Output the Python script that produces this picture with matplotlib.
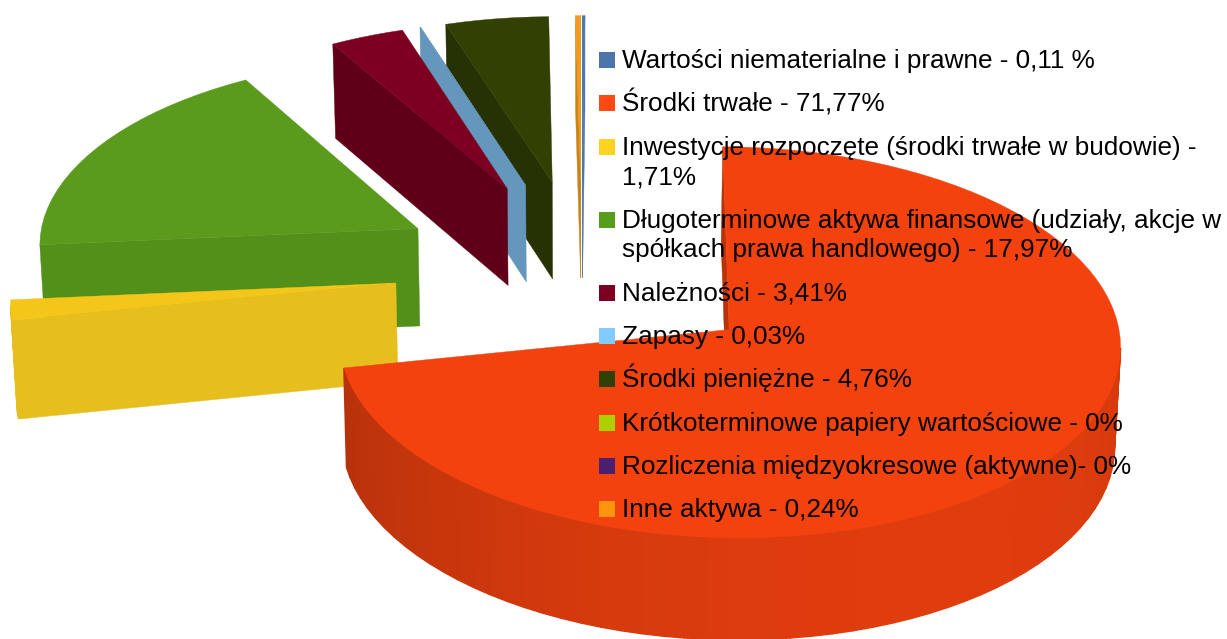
import numpy as np
import matplotlib
matplotlib.use("Agg")
import matplotlib.pyplot as plt
from matplotlib.patches import Polygon, Rectangle

labels = [
    "Wartości niematerialne i prawne - 0,11 %",
    "Środki trwałe - 71,77%",
    "Inwestycje rozpoczęte (środki trwałe w budowie) -\n1,71%",
    "Długoterminowe aktywa finansowe (udziały, akcje w\nspółkach prawa handlowego) - 17,97%",
    "Należności - 3,41%",
    "Zapasy - 0,03%",
    "Środki pieniężne - 4,76%",
    "Krótkoterminowe papiery wartościowe - 0%",
    "Rozliczenia międzyokresowe (aktywne)- 0%",
    "Inne aktywa - 0,24%",
]
values = [0.11, 71.77, 1.71, 17.97, 3.41, 0.03, 4.76, 0, 0, 0.24]
legend_colors = ["#4b75ab", "#ff4a12", "#ffd320", "#579d1c", "#7e0021",
                 "#83caff", "#314004", "#aecf00", "#4b1f6f", "#ff950e"]
top_colors = ["#4b75ab", "#f4420f", "#f4c61a", "#5a9a1c", "#7e0021",
              "#6596bc", "#334004", "#aecf00", "#4b1f6f", "#f39a1c"]
side_colors = ["#4b75ab", "#b93208", "#e6bf1f", "#53901a", "#5f0018",
               "#6596bc", "#263203", "#aecf00", "#4b1f6f", "#c98318"]

# projection of the pie
CX, CY = 582.0, 270.0
SX, SY = 382.0, 187.0
PERSP = 0.064
EXPLODE = 0.49
DEPTH = 98.0


def project(X, Y, bottom=False):
    w = 1 - PERSP * Y
    x, y = SX * X / w, SY * Y / w
    if bottom:
        x = x * 0.989
        y = y + DEPTH / (1 - 0.03 * Y)
    return np.column_stack([CX + x, CY + y])


def slice_outline(t1, t2):
    mid = (t1 + t2) / 2
    ex, ey = EXPLODE * np.sin(mid), -EXPLODE * np.cos(mid)
    n = max(2, int(np.degrees(t2 - t1) / 3.0) + 2)
    th = np.linspace(t1, t2, n)
    return ex, ey, th, ex + np.sin(th), ey - np.cos(th)


def signed_area(p):
    x, y = p[:, 0], p[:, 1]
    return 0.5 * np.sum(x * np.roll(y, -1) - np.roll(x, -1) * y)


def shade(hex_color, f):
    rgb = np.array(matplotlib.colors.to_rgb(hex_color))
    return tuple(np.clip(rgb * f, 0, 1))


fig = plt.figure(figsize=(12.27, 6.39), dpi=100)
ax = fig.add_axes([0, 0, 1, 1])
ax.set_xlim(0, 1227)
ax.set_ylim(639, 0)
ax.axis("off")


def poly(p, c, z, lw=0.3):
    ax.add_patch(Polygon(p, closed=True, facecolor=c, edgecolor=c, linewidth=lw, zorder=z))


fracs = np.array(values) / sum(values) * 2 * np.pi
starts = np.concatenate([[0], np.cumsum(fracs)[:-1]])
order = sorted(range(len(values)),
               key=lambda i: -np.cos((2 * starts[i] + fracs[i]) / 2) * EXPLODE if values[i] > 0 else 0)

for rank, i in enumerate(order):
    if values[i] <= 0:
        continue
    t1, t2 = starts[i], starts[i] + fracs[i]
    ex, ey, th, rx, ry = slice_outline(t1, t2)
    z = 10 + rank
    top_rim, bot_rim = project(rx, ry), project(rx, ry, True)
    a_top = project(np.array([ex]), np.array([ey]))
    a_bot = project(np.array([ex]), np.array([ey]), True)
    # radial cut faces
    f1 = np.vstack([a_top, top_rim[0], bot_rim[0], a_bot])
    f2 = np.vstack([top_rim[-1], a_top, a_bot, bot_rim[-1]])
    for f in (f2, f1):
        if signed_area(f) < 0:
            poly(f, side_colors[i], z)
    # outer wall: each facet overlaps the next one, so no seams show
    for k in range(len(th) - 1):
        q = np.vstack([top_rim[k], top_rim[k + 1], bot_rim[k + 1], bot_rim[k]])
        if signed_area(q) < 0:
            c = np.cos(((th[k] + th[k + 1]) / 2) - np.radians(150))
            poly(q, shade(top_colors[i], 0.79 + 0.13 * c) if i == 1 else side_colors[i], z, lw=1.0)
    poly(np.vstack([a_top, top_rim]), top_colors[i], z + 0.5)

# legend
SWATCH_X, SWATCH = 599, 16
TEXT_X = 622
ROW, LINE = 43.3, 29.7
FONT_PT = 18.8
y = 60.0
for lab, col in zip(labels, legend_colors):
    extra = LINE * lab.count("\n")
    ax.add_patch(Rectangle((SWATCH_X, y - SWATCH / 2), SWATCH, SWATCH, facecolor=col,
                           edgecolor="none", zorder=50))
    ax.text(TEXT_X, y + 8 + extra, lab, ha="left", va="baseline", fontsize=FONT_PT,
            family="Liberation Sans", color="black", linespacing=1.27, zorder=51)
    y += ROW + extra

fig.savefig("out.png", dpi=100)
